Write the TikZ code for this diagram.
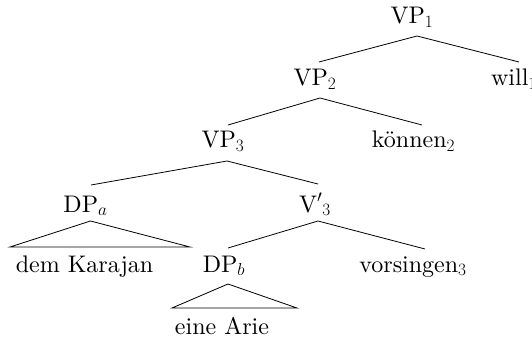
\documentclass[tikz,border=0pt]{standalone}
\usepackage{fontspec}
\setmainfont{lmroman10-regular.otf}
\usetikzlibrary{calc}
\begin{document}
\begin{tikzpicture}[x=1pt,y=-1pt,
  lbl/.style={anchor=base, inner sep=0pt, font=\fontsize{24}{28}\selectfont},
  edge/.style={line width=0.8pt, line join=miter}]
\useasboundingbox (0,0) rectangle (532,339);

% labels
\node[lbl] (vp1) at (412,24)    {VP$_1$};
\node[lbl] (vp2) at (315,86)    {VP$_2$};
\node[lbl] (will) at (514,86)   {will$_1$};
\node[lbl] (vp3) at (223,148)   {VP$_3$};
\node[lbl] (koennen) at (413.5,148) {können$_2$};
\node[lbl] (dpa) at (85.5,212)  {DP$_a$};
\node[lbl] (v3)  at (315,212)   {V$'{}_3$};
\node[lbl] (dem) at (84.5,272)  {dem Karajan};
\node[lbl] (dpb) at (224,272)   {DP$_b$};
\node[lbl] (vorsingen) at (413,272) {vorsingen$_3$};
\node[lbl] (eine) at (222,334)  {eine Arie};

% branches
\draw[edge] ($(vp2.base)+(4,-24)$) -- ($(vp1.base)+(5,12)$) -- ($(will.base)+(5,-24)$);
\draw[edge] ($(vp3.base)+(5,-23)$) -- ($(vp2.base)+(5,12)$) -- ($(koennen.base)+(8.5,-23)$);
\draw[edge] ($(dpa.base)+(5.5,-27)$) -- ($(vp3.base)+(4,13)$) -- ($(v3.base)+(3,-28)$);
\draw[edge] ($(dpb.base)+(4,-24)$) -- ($(v3.base)+(3,9)$) -- ($(vorsingen.base)+(12,-23)$);

% roofs over unanalysed phrases
\draw[edge] ($(dpa.base)+(5,9)$) -- ($(dem.base)+(-74.5,-25)$) -- ($(dem.base)+(105.5,-25)$) -- cycle;
\draw[edge] ($(dpb.base)+(4,12)$) -- ($(eine.base)+(-50,-26)$) -- ($(eine.base)+(75,-26)$) -- cycle;
\end{tikzpicture}
\end{document}
